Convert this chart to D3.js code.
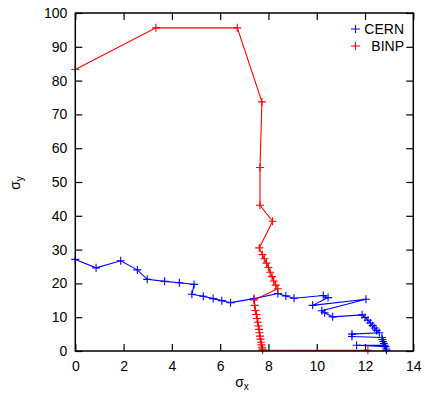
<!DOCTYPE html>
<html><head><meta charset="utf-8">
<script src="https://cdn.jsdelivr.net/npm/d3@7"></script>
<style>body{margin:0;background:#fff}svg{display:block}text{font-family:"Liberation Sans",Arial,sans-serif;fill:#000}</style>
</head><body>
<script>
const xTicks = [0,2,4,6,8,10,12,14];
const yTicks = [0,10,20,30,40,50,60,70,80,90,100];
const seriesNames = ["CERN","BINP"];
const seriesColors = ["#0000ff","#ff0000"];
const cern = [[0,27.1],[0.86,24.6],[1.88,26.7],[2.57,24.0],[2.98,21.2],[3.70,20.6],[4.31,20.2],[4.92,19.7],[4.83,16.8],[5.30,16.2],[5.71,15.5],[6.07,14.9],[6.43,14.3],[7.40,15.5],[8.39,17.0],[8.72,16.3],[9.06,15.6],[10.27,16.4],[10.47,15.8],[9.83,13.5],[12.04,15.3],[10.21,11.9],[10.33,11.3],[10.66,10.1],[11.88,10.7],[12.00,9.9],[12.12,9.1],[12.22,8.3],[12.32,7.5],[12.40,6.8],[12.48,6.1],[12.59,5.4],[11.46,5.0],[11.46,4.3],[12.70,4.0],[12.72,3.4],[12.75,2.8],[12.78,2.2],[12.81,1.7],[11.65,1.7],[12.85,1.3],[12.88,0.6],[12.89,0.2]];
const binp = [[0,83.3],[3.34,95.6],[6.71,95.6],[7.73,73.7],[7.65,54.3],[7.65,43.1],[8.17,38.4],[7.62,30.5],[7.75,28.5],[7.83,27.3],[7.92,26.0],[8.00,24.7],[8.07,23.3],[8.15,22.0],[8.22,20.7],[8.30,19.5],[8.39,18.4],[7.40,15.1],[7.43,13.5],[7.46,12.0],[7.50,10.8],[7.53,9.6],[7.56,8.5],[7.58,7.4],[7.61,6.4],[7.63,5.4],[7.65,4.4],[7.67,3.5],[7.69,2.6],[7.71,1.8],[7.73,1.1],[7.75,0.6],[7.76,0.3],[12.12,0.2]];
const series = [cern, binp];

const W=425,H=396;
const L=75.3,R=413.3,T=13,B=351;
const x=d3.scaleLinear().domain([0,14]).range([L,R]);
const y=d3.scaleLinear().domain([0,100]).range([B,T]);
const svg=d3.select("body").append("svg").attr("width",W).attr("height",H);

const tl=7;
// axes with inward ticks
const gx=svg.append("g").attr("transform",`translate(0,${B})`)
  .call(d3.axisBottom(x).tickValues(xTicks).tickSizeInner(-tl).tickSizeOuter(0).tickPadding(10).tickFormat(d3.format("d")));
const gxt=svg.append("g").attr("transform",`translate(0,${T})`)
  .call(d3.axisTop(x).tickValues(xTicks).tickSizeInner(-tl).tickSizeOuter(0).tickFormat(""));
const gy=svg.append("g").attr("transform",`translate(${L},0)`)
  .call(d3.axisLeft(y).tickValues(yTicks).tickSizeInner(-tl).tickSizeOuter(0).tickPadding(8).tickFormat(d3.format("d")));
const gyr=svg.append("g").attr("transform",`translate(${R},0)`)
  .call(d3.axisRight(y).tickValues(yTicks).tickSizeInner(-tl).tickSizeOuter(0).tickFormat(""));
[gx,gxt,gy,gyr].forEach(g=>{g.select(".domain").remove();g.selectAll("line").attr("stroke","#000").attr("stroke-width",1.2);g.selectAll("text").style("font-size","14px").attr("fill","#000").style("font-family","Liberation Sans, Arial, sans-serif");});
gx.selectAll("text").attr("dy","0.71em");

// series
const line=d3.line().x(d=>x(d[0])).y(d=>y(d[1]));
const ms=4;
series.forEach((s,i)=>{
  const g=svg.append("g");
  g.append("path").datum(s).attr("d",line).attr("fill","none").attr("stroke",seriesColors[i]).attr("stroke-width",1.1);
  g.selectAll("path.m").data(s).enter().append("path").attr("class","m")
    .attr("d",d=>`M${x(d[0])-ms},${y(d[1])}H${x(d[0])+ms}M${x(d[0])},${y(d[1])-ms}V${y(d[1])+ms}`)
    .attr("stroke",seriesColors[i]).attr("stroke-width",1.1).attr("fill","none");
});

// frame
svg.append("rect").attr("x",L).attr("y",T).attr("width",R-L).attr("height",B-T).attr("fill","none").attr("stroke","#000").attr("stroke-width",1.5);

// legend
const lg=svg.append("g");
seriesNames.forEach((n,i)=>{
  const cy=29+i*17;
  lg.append("path").attr("d",`M351,${cy}H360M355.5,${cy-ms}V${cy+ms}`).attr("stroke",seriesColors[i]).attr("stroke-width",1.1);
  lg.append("text").attr("x",404).attr("y",cy).attr("dy","0.35em").attr("text-anchor","end").style("font-size","14px").text(n);
});

// axis labels
const xl=svg.append("text").attr("x",242).attr("y",387).attr("text-anchor","middle").style("font-size","14px");
xl.append("tspan").text("σ");
xl.append("tspan").attr("dy",3).style("font-size","10px").text("x");
const yl=svg.append("text").attr("transform","translate(20,183) rotate(-90)").attr("text-anchor","middle").style("font-size","14px");
yl.append("tspan").text("σ");
yl.append("tspan").attr("dy",3).style("font-size","10px").text("y");
</script>
</body></html>
